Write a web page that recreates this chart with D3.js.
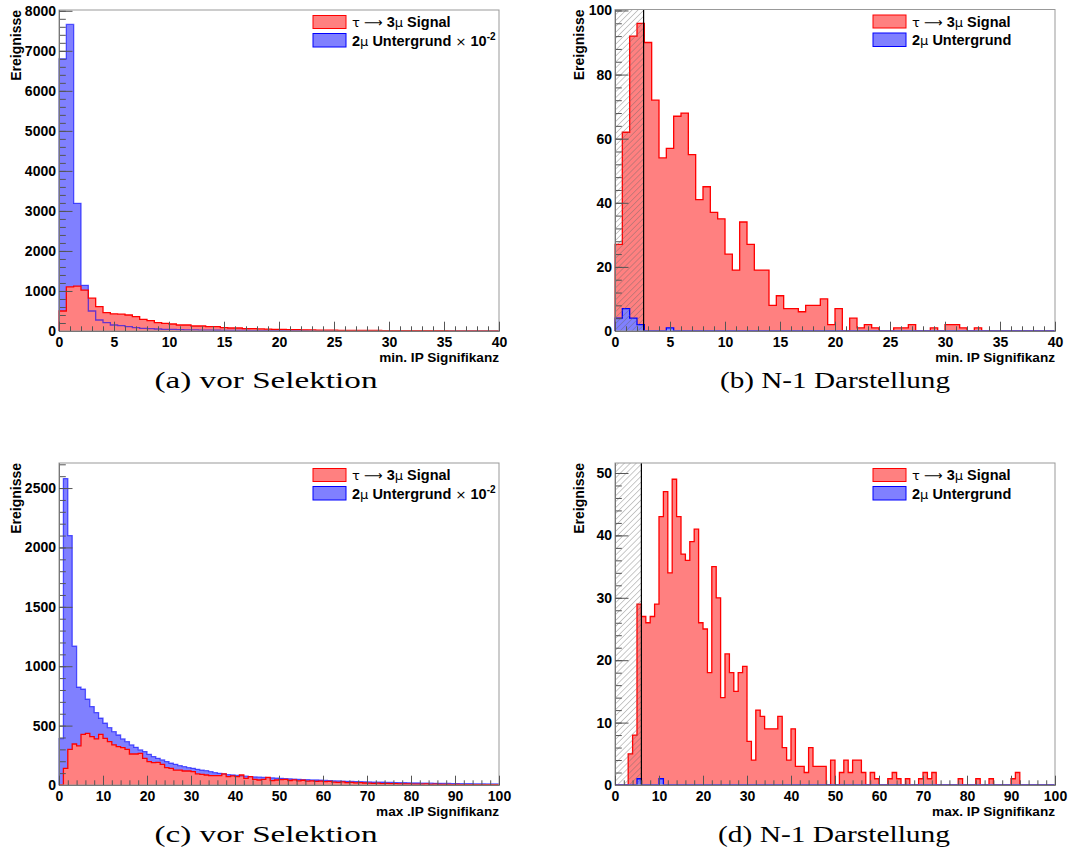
<!DOCTYPE html>
<html>
<head>
<meta charset="utf-8">
<script src="https://cdn.jsdelivr.net/npm/d3@7"></script>
<style>
body { margin: 0; background: #fff; }
svg { display: block; }
</style>
</head>
<body>
<svg id="chart" width="1069" height="849"></svg>
<script>
// bin contents (background already scaled by 1e-2 in a and c)
const sigMinSel = [500, 1100, 1120, 1020, 820, 610, 460, 430, 420, 400, 358, 290, 258, 210, 190, 175, 150, 150, 125, 125,
  108, 108, 85, 75, 75, 60, 58, 52, 48, 42, 40, 36, 32, 30, 27, 24, 22, 20, 18, 16,
  15, 14, 13, 12, 11, 10, 9, 8, 8, 7, 7, 6, 6, 5, 5, 4, 4, 3, 2, 0];
const bkgMinSel = [6800, 7660, 3190, 1140, 500, 275, 208, 150, 133, 108, 83, 67, 58, 50, 42, 40, 33, 30, 27, 24,
  21, 19, 17, 15, 14, 12, 11, 10, 9, 8, 7, 7, 6, 6, 5, 5, 4, 4, 4, 3,
  3, 3, 3, 2, 2, 2, 2, 2, 2, 1, 1, 1, 1, 1, 1, 1, 1, 1, 1, 1];

const sigMinN1 = [27, 62, 92, 96, 90, 72, 54, 57, 67, 68, 55, 41, 45, 37, 35, 24, 19, 34, 27, 19,
  19, 8, 11, 7, 7, 6, 8, 8, 10, 2, 7, 0, 4, 1, 2, 1, 0, 0, 1, 1,
  2, 0, 0, 1, 0, 2, 2, 1, 0, 1, 0, 0, 0, 0, 0, 0, 0, 0, 0, 0];
const bkgMinN1 = [4, 7, 4, 2, 0, 0, 0, 1, 0, 0, 0, 0, 0, 0, 0, 0, 0, 0, 0, 0,
  0, 0, 0, 0, 0, 0, 0, 0, 0, 0, 0, 0, 0, 0, 0, 0, 0, 0, 0, 0,
  0, 0, 0, 0, 0, 0, 0, 0, 0, 0, 0, 0, 0, 0, 0, 0, 0, 0, 0, 0];

const sigMaxSel = [0, 140, 300, 345, 330, 427, 435, 407, 388, 427,
  393, 365, 337, 323, 315, 300, 261, 261, 267, 225,
  197, 188, 191, 174, 146, 140, 126, 126, 118, 118,
  112, 93, 90, 84, 79, 79, 79, 93, 70, 76,
  70, 84, 56, 70, 48, 42, 48, 65, 37, 42,
  45, 48, 38, 43, 35, 40, 33, 35, 30, 33,
  28, 30, 25, 22, 26, 20, 22, 18, 20, 17,
  15, 14, 15, 12, 13, 11, 12, 10, 10, 9,
  8, 8, 7, 9, 6, 7, 5, 6, 5, 4,
  5, 4, 3, 4, 3, 3, 2, 3, 2, 2];
const bkgMaxSel = [390, 2580, 2100, 1170, 823, 806, 722, 660, 610, 562,
  520, 483, 449, 421, 388, 365, 337, 317, 295, 281,
  258, 239, 225, 211, 197, 183, 174, 163, 154, 146,
  140, 132, 126, 121, 112, 104, 98, 93, 87, 84,
  80, 77, 74, 71, 68, 66, 64, 62, 60, 58,
  56, 54, 52, 50, 48, 46, 45, 43, 42, 40,
  38, 37, 35, 34, 33, 31, 30, 29, 28, 27,
  26, 25, 24, 23, 22, 21, 20, 19, 19, 18,
  17, 17, 16, 15, 15, 14, 14, 13, 13, 12,
  12, 11, 11, 11, 10, 10, 10, 9, 9, 9];

const sigMaxN1 = [0, 0, 0, 5, 8, 29, 27, 26, 27, 29,
  43, 47, 34, 49, 43, 37, 36, 39, 41, 26,
  25, 18, 35, 30, 14, 21, 18, 15, 18, 19,
  7, 4, 12, 11, 9, 9, 9, 11, 6, 4,
  9, 3, 3, 2, 6, 3, 3, 3, 0, 4,
  0, 2, 4, 2, 4, 4, 2, 0, 2, 1,
  0, 0, 1, 2, 1, 0, 1, 0, 0, 1,
  2, 1, 2, 0, 0, 0, 0, 0, 1, 0,
  0, 0, 1, 0, 0, 1, 0, 0, 0, 0,
  1, 2, 0, 0, 0, 0, 0, 0, 0, 0];
const bkgMaxN1 = [0, 0, 0, 0, 0, 1, 0, 0, 0, 0, 1, 0, 0, 0, 0, 0, 0, 0, 0, 0,
  0, 0, 0, 0, 0, 0, 0, 0, 0, 0, 0, 0, 0, 0, 0, 0, 0, 0, 0, 0,
  0, 0, 0, 0, 0, 0, 0, 0, 0, 0, 0, 0, 0, 0, 0, 0, 0, 0, 0, 0,
  0, 0, 0, 0, 0, 0, 0, 0, 0, 0, 0, 0, 0, 0, 0, 0, 0, 0, 0, 0,
  0, 0, 0, 0, 0, 0, 0, 0, 0, 0, 0, 0, 0, 0, 0, 0, 0, 0, 0, 0];

const captions = ["(a)  vor Selektion", "(b)  N-1 Darstellung", "(c)  vor Selektion", "(d)  N-1 Darstellung"];
const xTitles = ["min. IP Signifikanz", "min. IP Signifikanz", "max .IP Signifikanz", "max. IP Signifikanz"];
const cutValues = [null, 2.6, null, 6];

const panels = [
  {sig: sigMinSel, bkg: bkgMinSel, xMax: 40, yMax: 8020, yStep: 1000, yMinor: 200, xStep: 5, xMinor: 1,
   l: 59, t: 10, r: 499, b: 331, redTop: true, scaled: true, legX: 313, capX: 266, capW: 223, titleOff: 43},
  {sig: sigMinN1, bkg: bkgMinN1, xMax: 40, yMax: 100.3, yStep: 20, yMinor: 4, xStep: 5, xMinor: 1,
   l: 615, t: 9.5, r: 1055, b: 331, redTop: false, scaled: false, legX: 873, capX: 835, capW: 230, titleOff: 36},
  {sig: sigMaxSel, bkg: bkgMaxSel, xMax: 100, yMax: 2711, yStep: 500, yMinor: 100, xStep: 10, xMinor: 2,
   l: 59, t: 463, r: 499, b: 785, redTop: true, scaled: true, legX: 313, capX: 266, capW: 223, titleOff: 43},
  {sig: sigMaxN1, bkg: bkgMaxN1, xMax: 100, yMax: 51.6, yStep: 10, yMinor: 2, xStep: 10, xMinor: 2,
   l: 615, t: 463, r: 1055, b: 785, redTop: false, scaled: false, legX: 873, capX: 834, capW: 232, titleOff: 36}
];

const SANS = "'Liberation Sans', Arial, sans-serif";
const SYM = "'DejaVu Sans', sans-serif";
const SERIF = "'Liberation Serif', 'DejaVu Serif', serif";

const svg = d3.select("#chart");
const defs = svg.append("defs");
defs.append("pattern")
  .attr("id", "hatch")
  .attr("patternUnits", "userSpaceOnUse")
  .attr("width", 4.2).attr("height", 4.2)
  .attr("patternTransform", "rotate(45)")
  .append("line")
  .attr("x1", 0).attr("y1", 0).attr("x2", 0).attr("y2", 4.2)
  .attr("stroke", "#666").attr("stroke-width", 0.7);

const RED_FILL = "#ff8080", RED = "#ff0000";
const BLUE_FILL = "#8080ff", BLUE = "#0000ff";

function histPoints(vals, w) {
  // outline: up from 0 at first edge, steps, back down to 0 at last edge
  const pts = [[0, 0]];
  vals.forEach((v, i) => pts.push([i * w, v]));
  pts.push([vals.length * w, vals[vals.length - 1]]);
  pts.push([vals.length * w, 0]);
  return pts;
}

panels.forEach((p, k) => {
  const g = svg.append("g");
  const x = d3.scaleLinear().domain([0, p.xMax]).range([p.l, p.r]);
  const y = d3.scaleLinear().domain([0, p.yMax]).range([p.b, p.t]);
  const w = p.xMax / p.sig.length;

  const area = d3.area().curve(d3.curveStepAfter)
    .x(d => x(d[0])).y0(y(0)).y1(d => y(d[1]));
  const line = d3.line().curve(d3.curveStepAfter)
    .x(d => x(d[0])).y(d => y(d[1]));

  const sigPts = histPoints(p.sig, w);
  const bkgPts = histPoints(p.bkg, w);

  if (p.redTop) {
    g.append("path").datum(bkgPts).attr("d", area).attr("fill", BLUE_FILL);
    g.append("path").datum(sigPts).attr("d", area).attr("fill", RED_FILL);
    g.append("path").datum(bkgPts).attr("d", line).attr("fill", "none")
      .attr("stroke", BLUE).attr("stroke-opacity", 0.6).attr("stroke-width", 1.3);
    g.append("path").datum(sigPts).attr("d", line).attr("fill", "none")
      .attr("stroke", RED).attr("stroke-width", 1.3);
  } else {
    g.append("path").datum(sigPts).attr("d", area).attr("fill", RED_FILL);
    g.append("path").datum(sigPts).attr("d", line).attr("fill", "none")
      .attr("stroke", RED).attr("stroke-width", 1.3);
    g.append("path").datum(bkgPts).attr("d", area).attr("fill", BLUE_FILL);
    g.append("path").datum(bkgPts).attr("d", line).attr("fill", "none")
      .attr("stroke", BLUE).attr("stroke-width", 1.3);
  }

  // cut region
  const cut = cutValues[k];
  if (cut !== null) {
    g.append("rect")
      .attr("x", x(0)).attr("y", p.t)
      .attr("width", x(cut) - x(0)).attr("height", p.b - p.t)
      .attr("fill", "url(#hatch)");
    g.append("line")
      .attr("x1", x(cut)).attr("x2", x(cut)).attr("y1", p.b).attr("y2", p.t)
      .attr("stroke", "#000").attr("stroke-width", 1.2);
  }

  // frame
  g.append("rect")
    .attr("x", p.l).attr("y", p.t).attr("width", p.r - p.l).attr("height", p.b - p.t)
    .attr("fill", "none").attr("stroke", "#999").attr("stroke-width", 1);

  // axes with inward ticks
  const yMajor = d3.range(0, p.yMax + 1e-9, p.yStep);
  const yMinor = d3.range(0, p.yMax + 1e-9, p.yMinor);
  const xMajor = d3.range(0, p.xMax + 1e-9, p.xStep);
  const xMinor = d3.range(0, p.xMax + 1e-9, p.xMinor);

  const yAx = g.append("g").attr("transform", `translate(${p.l},0)`)
    .call(d3.axisLeft(y).tickValues(yMinor).tickSize(-6.8).tickSizeOuter(0).tickFormat(""));
  const yAxMaj = g.append("g").attr("transform", `translate(${p.l},0)`)
    .call(d3.axisLeft(y).tickValues(yMajor).tickSize(-13.5).tickSizeOuter(0).tickPadding(3).tickFormat(d3.format("d")));
  const xAx = g.append("g").attr("transform", `translate(0,${p.b})`)
    .call(d3.axisBottom(x).tickValues(xMinor).tickSize(-4.7).tickSizeOuter(0).tickFormat(""));
  const xAxMaj = g.append("g").attr("transform", `translate(0,${p.b})`)
    .call(d3.axisBottom(x).tickValues(xMajor).tickSize(-9.3).tickSizeOuter(0).tickPadding(5.6).tickFormat(d3.format("d")));

  [yAx, yAxMaj, xAx, xAxMaj].forEach(a => {
    a.select(".domain").attr("stroke", "#777");
    a.selectAll(".tick line").attr("stroke", "#555").attr("stroke-width", 1);
    a.selectAll("text").style("font-family", SANS)
      .attr("font-weight", "bold").attr("font-size", 14).attr("fill", "#000");
  });

  // axis titles
  g.append("text")
    .attr("transform", `translate(${p.l - p.titleOff},${p.t}) rotate(-90)`)
    .attr("text-anchor", "end").attr("dy", "0.35em")
    .style("font-family", SANS)
    .attr("font-weight", "bold").attr("font-size", 14)
    .text("Ereignisse");
  g.append("text")
    .attr("x", p.r).attr("y", p.b + 31)
    .attr("text-anchor", "end")
    .style("font-family", SANS)
    .attr("font-weight", "bold").attr("font-size", 13.6)
    .text(xTitles[k]);

  // legend
  const lg = g.append("g");
  lg.append("rect").attr("x", p.legX).attr("y", p.t + 5.5).attr("width", 33).attr("height", 13)
    .attr("fill", RED_FILL).attr("stroke", RED).attr("stroke-width", 1);
  lg.append("rect").attr("x", p.legX).attr("y", p.t + 23.5).attr("width", 33).attr("height", 13.5)
    .attr("fill", BLUE_FILL).attr("stroke", BLUE).attr("stroke-width", 1);

  const t1 = lg.append("text").attr("x", p.legX + 39).attr("y", p.t + 17)
    .style("font-family", SANS).attr("font-size", 14.5).attr("font-weight", "bold");
  t1.append("tspan").style("font-family", SYM).attr("font-weight", "normal").attr("font-size", 13).text("τ ⟶ ");
  t1.append("tspan").text("3");
  t1.append("tspan").style("font-family", SYM).attr("font-weight", "normal").attr("font-size", 13).text("μ");
  t1.append("tspan").text(" Signal");

  const t2 = lg.append("text").attr("x", p.legX + 39).attr("y", p.t + 35.5)
    .style("font-family", SANS).attr("font-size", 14.5).attr("font-weight", "bold");
  t2.append("tspan").text("2");
  t2.append("tspan").style("font-family", SYM).attr("font-weight", "normal").attr("font-size", 13).text("μ");
  t2.append("tspan").text(" Untergrund");
  if (p.scaled) {
    t2.append("tspan").style("font-family", SYM).attr("font-weight", "normal").attr("font-size", 13).text(" × ");
    t2.append("tspan").text("10");
    t2.append("tspan").attr("dy", -6).attr("font-size", 10).text("-2");
  }

  // caption
  svg.append("text")
    .attr("x", p.capX).attr("y", p.b + 57)
    .attr("text-anchor", "middle")
    .style("font-family", SERIF)
    .attr("font-size", 23)
    .attr("textLength", p.capW).attr("lengthAdjust", "spacingAndGlyphs")
    .text(captions[k]);
});
</script>
</body>
</html>
